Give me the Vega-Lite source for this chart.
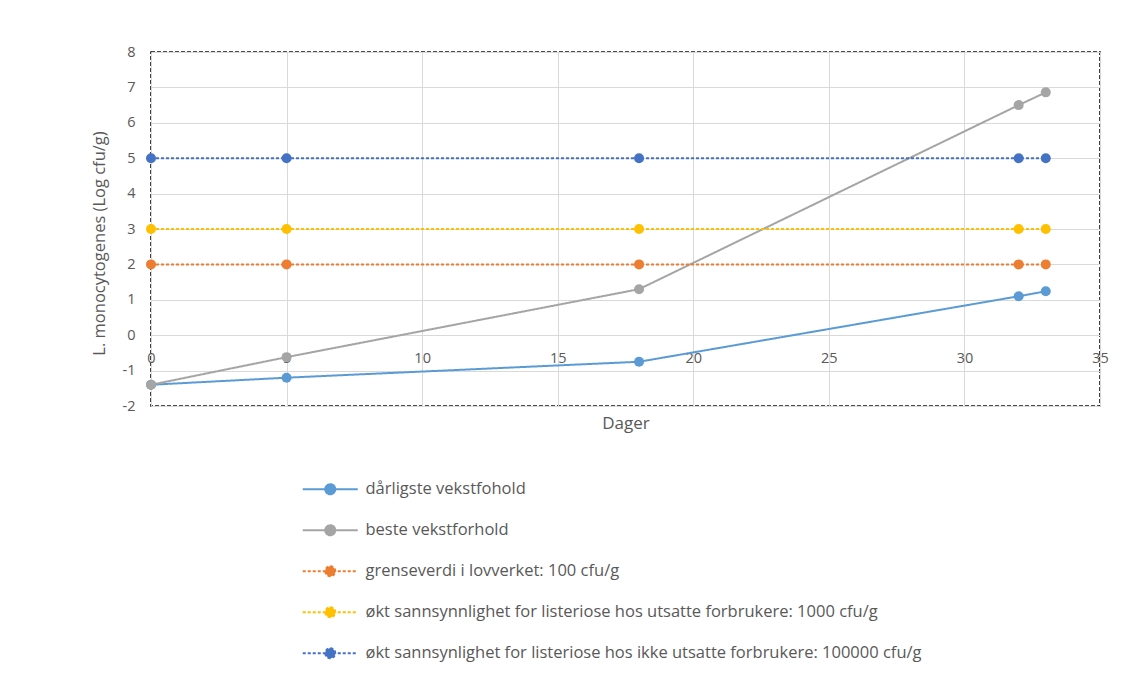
{
  "$schema": "https://vega.github.io/schema/vega-lite/v6.json",
  "width": 949,
  "height": 354,
  "autosize": {"type": "none"},
  "padding": {"left": 151, "top": 52, "right": 26, "bottom": 269},
  "background": "white",
  "config": {
    "view": {"stroke": "#111111", "strokeWidth": 1.6, "strokeDash": [4, 2]},
    "font": "Open Sans",
    "axis": {"labelColor": "#595959", "titleColor": "#595959", "gridColor": "#D9D9D9", "gridWidth": 1, "labelFont": "Open Sans", "titleFont": "Open Sans"}
  },
  "data": {
    "values": [
      {"dag": 0, "verdi": -1.4, "serie": "dårligste vekstfohold"},
      {"dag": 5, "verdi": -1.2, "serie": "dårligste vekstfohold"},
      {"dag": 18, "verdi": -0.75, "serie": "dårligste vekstfohold"},
      {"dag": 32, "verdi": 1.1, "serie": "dårligste vekstfohold"},
      {"dag": 33, "verdi": 1.24, "serie": "dårligste vekstfohold"},
      {"dag": 0, "verdi": -1.4, "serie": "beste vekstforhold"},
      {"dag": 5, "verdi": -0.62, "serie": "beste vekstforhold"},
      {"dag": 18, "verdi": 1.3, "serie": "beste vekstforhold"},
      {"dag": 32, "verdi": 6.5, "serie": "beste vekstforhold"},
      {"dag": 33, "verdi": 6.86, "serie": "beste vekstforhold"},
      {"dag": 0, "verdi": 2, "serie": "grenseverdi i lovverket: 100 cfu/g"},
      {"dag": 5, "verdi": 2, "serie": "grenseverdi i lovverket: 100 cfu/g"},
      {"dag": 18, "verdi": 2, "serie": "grenseverdi i lovverket: 100 cfu/g"},
      {"dag": 32, "verdi": 2, "serie": "grenseverdi i lovverket: 100 cfu/g"},
      {"dag": 33, "verdi": 2, "serie": "grenseverdi i lovverket: 100 cfu/g"},
      {"dag": 0, "verdi": 3, "serie": "økt sannsynnlighet for listeriose hos utsatte forbrukere:  1000 cfu/g"},
      {"dag": 5, "verdi": 3, "serie": "økt sannsynnlighet for listeriose hos utsatte forbrukere:  1000 cfu/g"},
      {"dag": 18, "verdi": 3, "serie": "økt sannsynnlighet for listeriose hos utsatte forbrukere:  1000 cfu/g"},
      {"dag": 32, "verdi": 3, "serie": "økt sannsynnlighet for listeriose hos utsatte forbrukere:  1000 cfu/g"},
      {"dag": 33, "verdi": 3, "serie": "økt sannsynnlighet for listeriose hos utsatte forbrukere:  1000 cfu/g"},
      {"dag": 0, "verdi": 5, "serie": "økt sannsynlighet for listeriose hos ikke utsatte forbrukere: 100000 cfu/g"},
      {"dag": 5, "verdi": 5, "serie": "økt sannsynlighet for listeriose hos ikke utsatte forbrukere: 100000 cfu/g"},
      {"dag": 18, "verdi": 5, "serie": "økt sannsynlighet for listeriose hos ikke utsatte forbrukere: 100000 cfu/g"},
      {"dag": 32, "verdi": 5, "serie": "økt sannsynlighet for listeriose hos ikke utsatte forbrukere: 100000 cfu/g"},
      {"dag": 33, "verdi": 5, "serie": "økt sannsynlighet for listeriose hos ikke utsatte forbrukere: 100000 cfu/g"}
    ]
  },
  "encoding": {
    "x": {
      "field": "dag", "type": "quantitative",
      "scale": {"domain": [0, 35], "nice": false, "zero": false},
      "axis": {"title": "Dager", "values": [0, 5, 10, 15, 20, 25, 30, 35], "labelExpr": "'' + datum.value", "labelOverlap": false, "offset": -71, "domain": false, "ticks": false, "labelPadding": 16, "labelFontSize": 14.5, "titleFontSize": 17, "titleFontWeight": "normal", "titleBaseline": "middle", "titleY": 88, "labelFlush": false}
    },
    "y": {
      "field": "verdi", "type": "quantitative",
      "scale": {"domain": [-2, 8], "nice": false},
      "axis": {"title": "L. monocytogenes (Log cfu/g)", "values": [-2, -1, 0, 1, 2, 3, 4, 5, 6, 7, 8], "labelExpr": "'' + datum.value", "domain": false, "ticks": false, "labelPadding": 16, "labelFontSize": 14.5, "titleFontSize": 16.5, "titleFontWeight": "normal", "titleBaseline": "middle", "titleX": -52, "titleY": 191}
    },
    "color": {
      "field": "serie", "type": "nominal",
      "scale": {
        "domain": ["dårligste vekstfohold", "beste vekstforhold", "grenseverdi i lovverket: 100 cfu/g", "økt sannsynnlighet for listeriose hos utsatte forbrukere:  1000 cfu/g", "økt sannsynlighet for listeriose hos ikke utsatte forbrukere: 100000 cfu/g"],
        "range": ["#5B9BD5", "#A5A5A5", "#ED7D31", "#FFC000", "#4472C4"]
      },
      "legend": {
        "title": null, "orient": "none", "legendX": 171, "legendY": 429, "direction": "vertical",
        "symbolType": "M-5.5,0L5.5,0M-1,0A1,1 0 1,0 1,0A1,1 0 1,0 -1,0Z",
        "symbolSize": 100, "symbolStrokeWidth": 2, "symbolOpacity": 1,
        "labelOffset": 27, "labelFontSize": 16.5, "labelColor": "#595959", "labelLimit": 800, "rowPadding": 22
      }
    }
  },
  "layer": [
    {
      "mark": {"type": "line"},
      "encoding": {
        "strokeDash": {
          "field": "serie", "type": "nominal",
          "scale": {
            "domain": ["dårligste vekstfohold", "beste vekstforhold", "grenseverdi i lovverket: 100 cfu/g", "økt sannsynnlighet for listeriose hos utsatte forbrukere:  1000 cfu/g", "økt sannsynlighet for listeriose hos ikke utsatte forbrukere: 100000 cfu/g"],
            "range": [[1, 0], [1, 0], [3, 2], [3, 2], [3, 2]]
          },
          "legend": {"title": null}
        },
        "strokeWidth": {
          "field": "serie", "type": "nominal",
          "scale": {
            "domain": ["dårligste vekstfohold", "beste vekstforhold", "grenseverdi i lovverket: 100 cfu/g", "økt sannsynnlighet for listeriose hos utsatte forbrukere:  1000 cfu/g", "økt sannsynlighet for listeriose hos ikke utsatte forbrukere: 100000 cfu/g"],
            "range": [2, 2, 1.6, 1.6, 1.6]
          },
          "legend": null
        }
      }
    },
    {
      "mark": {"type": "point", "filled": true, "size": 100, "opacity": 1}
    }
  ]
}
